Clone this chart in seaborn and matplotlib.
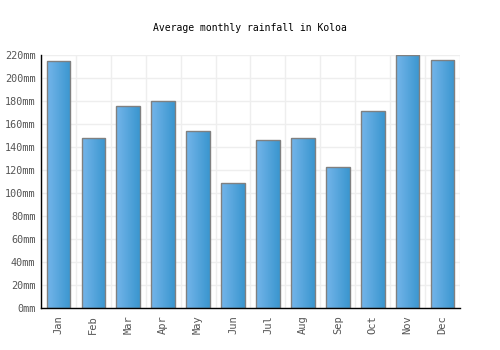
import numpy as np
import pandas as pd
import matplotlib
matplotlib.use("Agg")
import matplotlib.pyplot as plt
import seaborn as sns
from matplotlib.colors import LinearSegmentedColormap

sns.set_theme(style="white")
plt.rcParams['font.family'] = ['DejaVu Sans Mono']

months = ["Jan", "Feb", "Mar", "Apr", "May", "Jun", "Jul", "Aug", "Sep", "Oct", "Nov", "Dec"]
rainfall = [215, 148, 176, 180, 154, 109, 146, 148, 123, 171, 220, 216]
yticks = list(range(0, 221, 20))

df = pd.DataFrame({"month": months, "rain": rainfall})

fig = plt.figure(figsize=(5, 3.5), dpi=100)
ax = fig.add_axes([0.082, 0.12, 0.838, 0.723])
sns.barplot(data=df, x="month", y="rain", color="#4a9fd8", width=0.68,
            edgecolor="#808080", linewidth=1, ax=ax, zorder=3)

# horizontal gradient inside every bar
cmap = LinearSegmentedColormap.from_list("g", ["#74b5ea", "#3a96cf"])
grad = np.linspace(0, 1, 64).reshape(1, -1)
for p in ax.patches:
    x0, y0 = p.get_x(), p.get_y()
    w, h = p.get_width(), p.get_height()
    im = ax.imshow(grad, cmap=cmap, aspect="auto", extent=[x0, x0 + w, y0, y0 + h],
                   zorder=3.5)
    im.set_clip_path(p)
    p.set_facecolor("none")
    p.set_zorder(4)

ax.set_xlim(-0.5, 11.5)
ax.set_ylim(0, 220)
ax.set_yticks(yticks)
ax.set_yticklabels([f"{v}mm" for v in yticks])
ax.set_xticks(np.arange(-0.5, 12, 1), minor=True)
ax.grid(True, which="minor", axis="x", color="#eeeeee", linewidth=1, zorder=0)
ax.grid(True, which="major", axis="y", color="#eeeeee", linewidth=1, zorder=0)
ax.tick_params(axis="x", which="both", length=0, rotation=90, labelsize=7.5,
               labelcolor="#555555", pad=5)
ax.tick_params(axis="y", length=0, labelsize=7.3, labelcolor="#555555", pad=4)
ax.set_xlabel("")
ax.set_ylabel("")
for s in ["top", "right"]:
    ax.spines[s].set_visible(False)
for s in ["left", "bottom"]:
    ax.spines[s].set_color("black")
    ax.spines[s].set_linewidth(1)
    ax.spines[s].set_zorder(5)

fig.text(0.5, 0.92, "Average monthly rainfall in Koloa", ha="center", va="center",
         fontsize=7, color="black")

fig.savefig("out.png", dpi=100)
plt.close()
